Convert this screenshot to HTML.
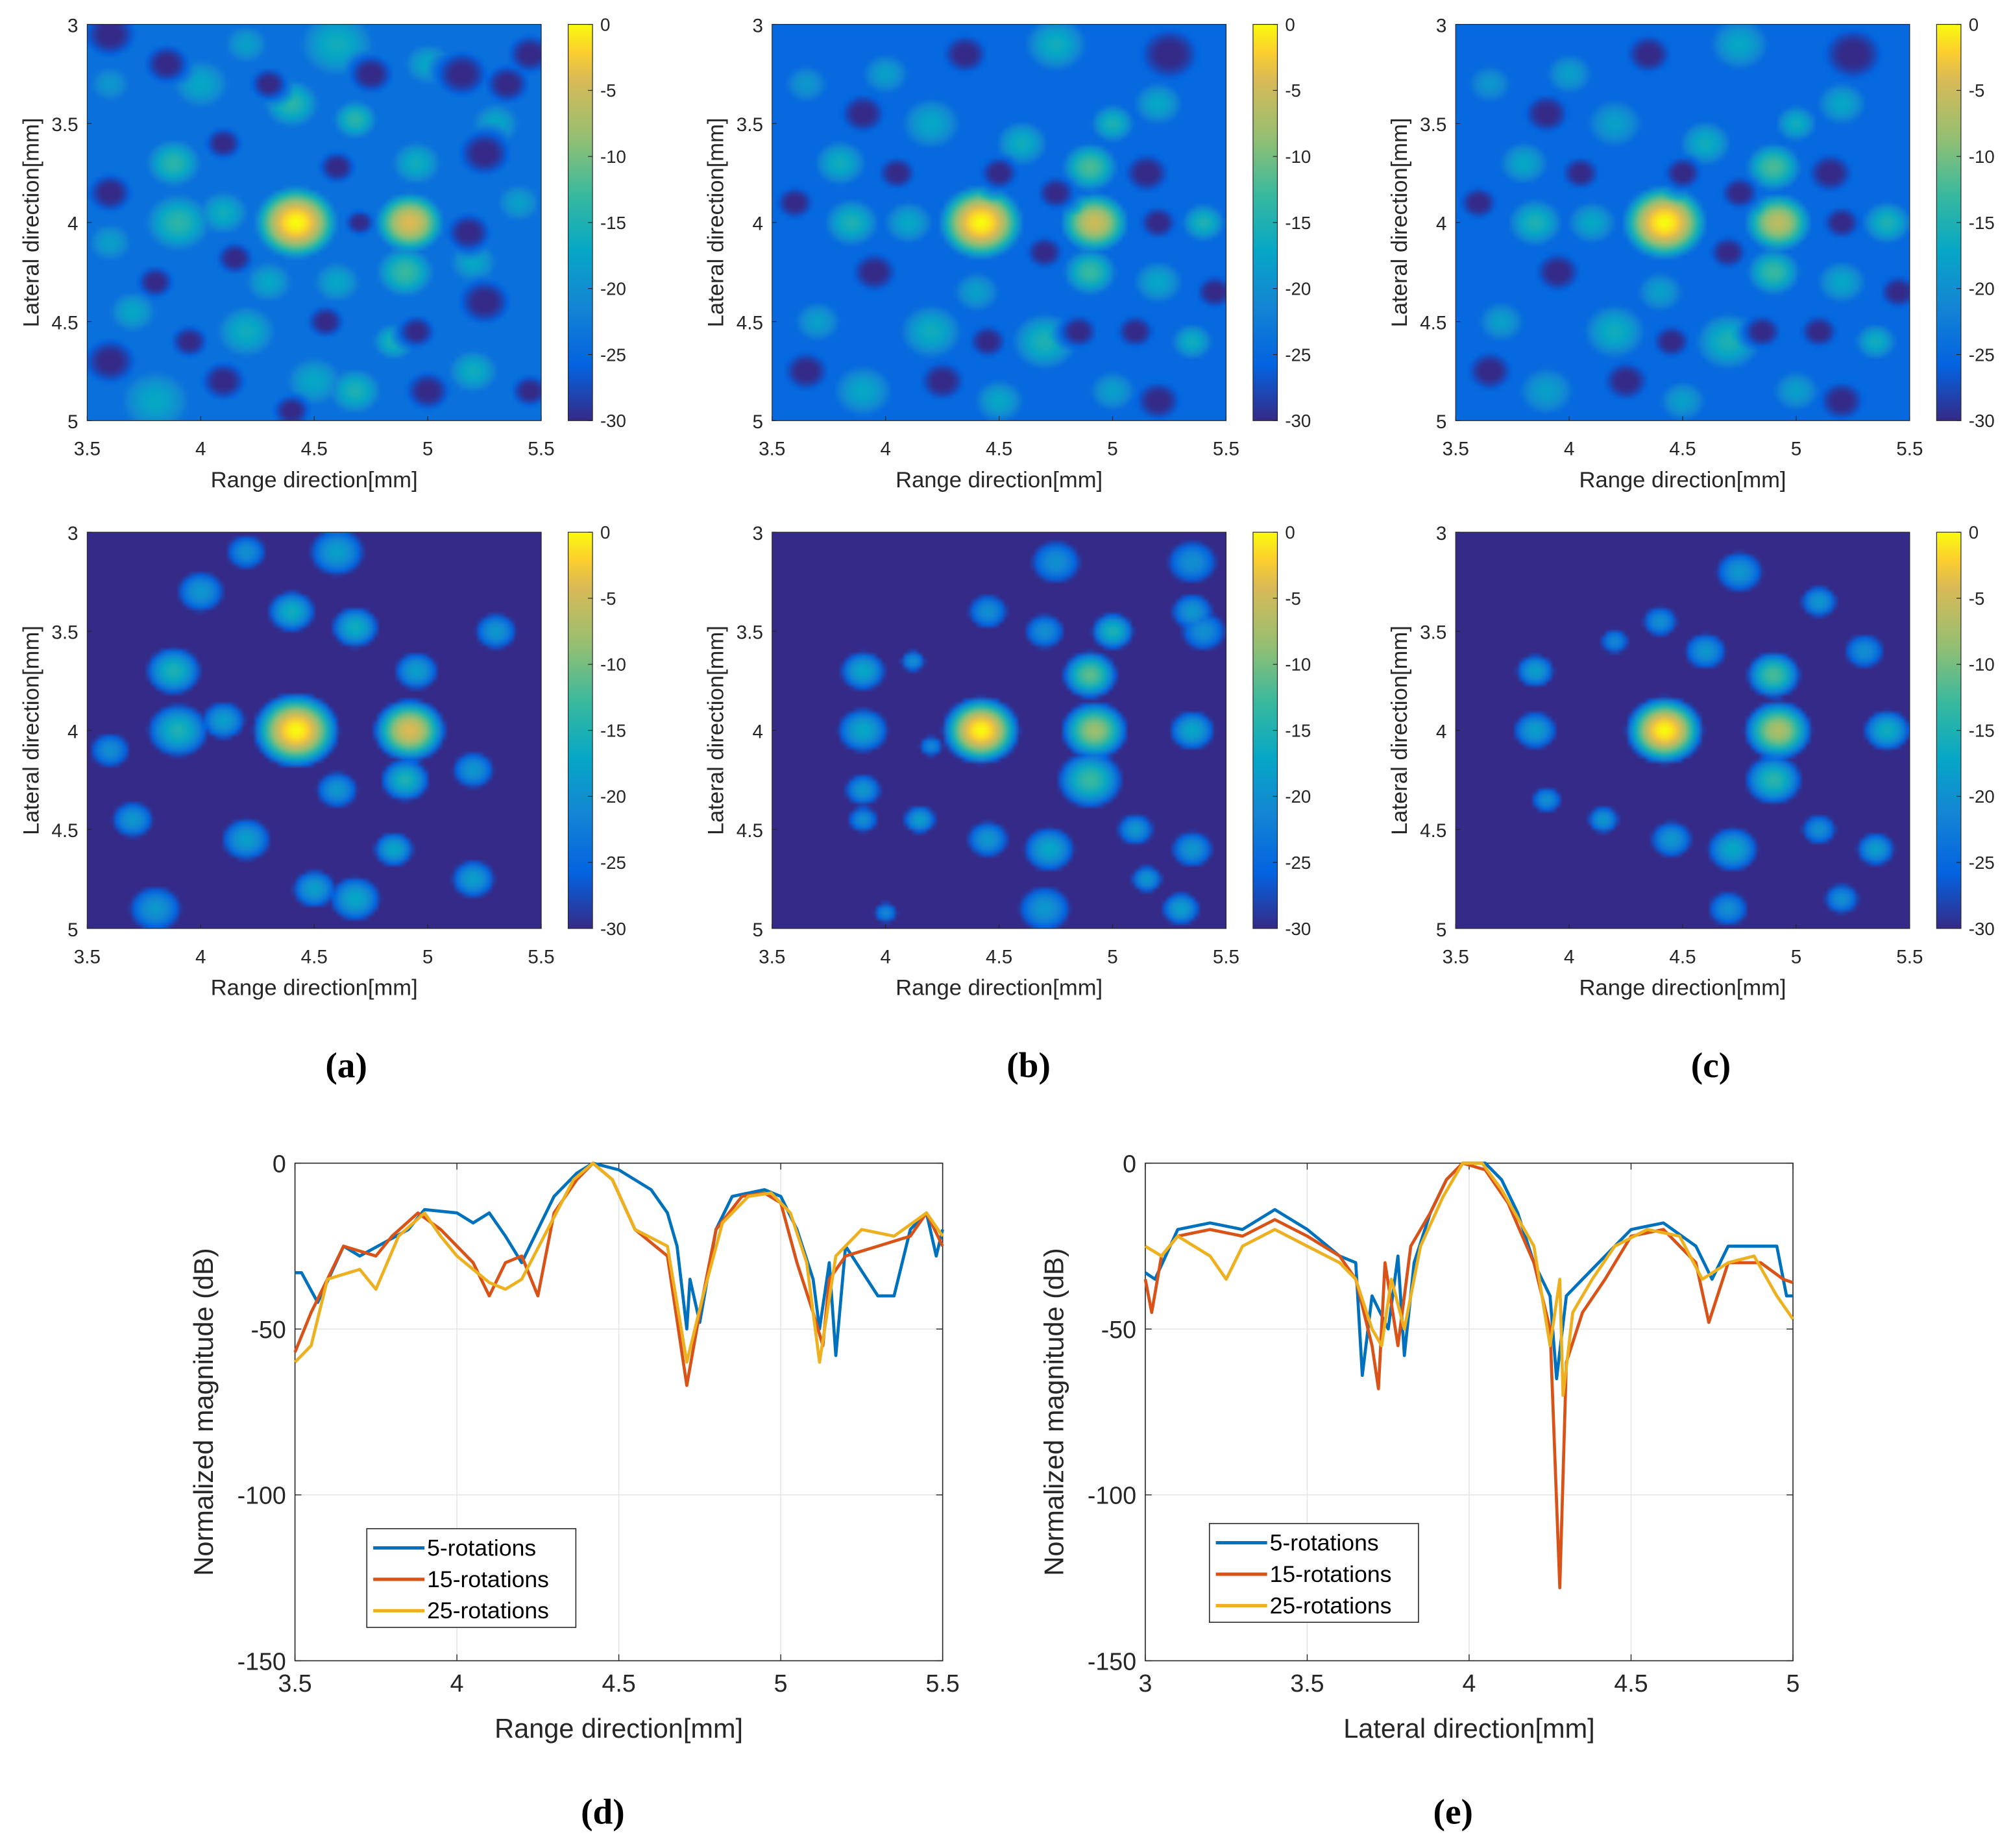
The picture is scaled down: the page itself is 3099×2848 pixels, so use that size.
<!DOCTYPE html>
<html><head><meta charset="utf-8"><style>
html,body{margin:0;padding:0;background:#fff;}
#root{position:relative;width:3099px;height:2848px;overflow:hidden;}
#stage{position:absolute;left:0;top:0;width:1568px;height:1441px;transform:scale(1.97640);transform-origin:0 0;}
canvas{position:absolute;image-rendering:auto;}
svg{position:absolute;left:0;top:0;}
text{font-family:"Liberation Sans",sans-serif;}
</style></head><body>
<div id="root"><div id="stage">
<svg id="svg" width="1568" height="1441" viewBox="0 0 1568 1441">
<defs><linearGradient id="parula" x1="0" y1="1" x2="0" y2="0">
<stop offset="0" stop-color="#352a87"/><stop offset="0.14" stop-color="#0363e1"/><stop offset="0.29" stop-color="#1485d4"/><stop offset="0.43" stop-color="#06a7c6"/><stop offset="0.57" stop-color="#38b99e"/><stop offset="0.71" stop-color="#92bf73"/><stop offset="0.86" stop-color="#d9ba56"/><stop offset="0.93" stop-color="#fcce2e"/><stop offset="1" stop-color="#f9fb0e"/></linearGradient></defs>
</svg>
</div></div>
<script>
// ---- heatmap data: blobs [x mm, y mm, peak dB, radius mm]; holes [x mm, y mm, radius mm]
const heatXTicks=[3.5,4,4.5,5,5.5];
const heatYTicks=[3,3.5,4,4.5,5];
const cbarTicks=[0,-5,-10,-15,-20,-25,-30];
const blobsA=[[4.42,4.0,0,0.1],[4.92,4.0,-4,0.09],[3.9,4.0,-14,0.12],[4.1,3.95,-16,0.1],[3.88,3.7,-14,0.1],[4.0,3.3,-17,0.12],[4.6,3.1,-16,0.15],[5.0,3.2,-17,0.1],[5.3,3.5,-17,0.1],[4.4,3.4,-14,0.1],[4.68,3.48,-14,0.08],[4.9,4.25,-13,0.1],[4.6,4.3,-17,0.1],[4.2,4.55,-16,0.12],[3.7,4.45,-17,0.1],[3.8,4.9,-17,0.15],[4.68,4.85,-15,0.1],[5.2,4.75,-16,0.1],[5.2,4.2,-17,0.1],[5.4,3.9,-18,0.1],[4.3,4.3,-17,0.1],[3.6,3.3,-19,0.1],[4.85,4.6,-15,0.08],[4.2,3.1,-18,0.1],[3.6,4.1,-18,0.1],[4.5,4.8,-17,0.12],[4.95,3.7,-16,0.1]];
const holesA=[[3.6,3.05,0.07],[3.85,3.2,0.06],[4.3,3.3,0.05],[4.75,3.25,0.06],[5.15,3.25,0.07],[5.45,3.15,0.06],[4.1,3.6,0.05],[4.6,3.72,0.05],[5.25,3.65,0.07],[5.35,3.3,0.06],[3.6,3.85,0.06],[4.15,4.18,0.05],[4.7,4.0,0.04],[5.18,4.05,0.06],[5.25,4.4,0.07],[3.8,4.3,0.05],[4.55,4.5,0.05],[4.95,4.55,0.05],[3.6,4.7,0.07],[4.1,4.8,0.06],[5.0,4.85,0.06],[4.4,4.95,0.05],[3.95,4.6,0.05],[5.45,4.85,0.05]];
const blobsB=[[4.42,4.0,0,0.1],[4.92,4.0,-5,0.09],[4.9,3.72,-12,0.09],[4.9,4.25,-13,0.09],[3.85,4.0,-15,0.1],[4.1,4.0,-17,0.1],[3.8,3.7,-16,0.1],[4.2,3.5,-17,0.12],[4.6,3.6,-16,0.1],[4.75,3.1,-16,0.12],[5.2,3.4,-17,0.1],[5.4,4.0,-15,0.08],[5.2,4.3,-17,0.1],[4.7,4.6,-15,0.12],[4.2,4.55,-16,0.12],[3.7,4.5,-18,0.1],[3.9,4.85,-17,0.12],[5.35,4.6,-16,0.08],[4.5,4.9,-17,0.1],[4.0,3.25,-18,0.1],[5.0,4.85,-18,0.1],[3.65,3.3,-19,0.1],[4.4,4.35,-18,0.1],[5.0,3.5,-15,0.08]];
const holesB=[[5.25,3.15,0.08],[4.35,3.15,0.06],[3.9,3.45,0.06],[4.5,3.75,0.05],[4.75,3.85,0.05],[4.7,4.15,0.05],[5.15,3.75,0.06],[5.2,4.0,0.05],[3.95,4.25,0.06],[4.45,4.6,0.05],[4.85,4.55,0.05],[5.1,4.55,0.05],[3.65,4.75,0.06],[4.25,4.8,0.06],[5.2,4.9,0.06],[5.45,4.35,0.05],[3.6,3.9,0.05],[4.05,3.75,0.05]];
const blobsC=[[4.42,4.0,0,0.1],[4.92,4.0,-6,0.09],[4.9,3.72,-12,0.09],[4.9,4.25,-13,0.09],[3.85,4.0,-15,0.1],[4.1,4.0,-17,0.1],[3.8,3.7,-17,0.1],[4.2,3.5,-18,0.12],[4.6,3.6,-16,0.1],[4.75,3.1,-17,0.12],[5.2,3.4,-17,0.1],[5.4,4.0,-15,0.09],[5.2,4.3,-17,0.1],[4.7,4.6,-15,0.12],[4.2,4.55,-16,0.12],[3.7,4.5,-18,0.1],[3.9,4.85,-18,0.12],[5.35,4.6,-16,0.08],[4.5,4.9,-18,0.1],[4.0,3.25,-18,0.1],[5.0,4.85,-18,0.1],[3.65,3.3,-19,0.1],[4.4,4.35,-18,0.1],[5.0,3.5,-16,0.08]];
const holesC=[[5.25,3.15,0.08],[4.35,3.15,0.06],[3.9,3.45,0.06],[4.5,3.75,0.05],[4.75,3.85,0.05],[4.7,4.15,0.05],[5.15,3.75,0.06],[5.2,4.0,0.05],[3.95,4.25,0.06],[4.45,4.6,0.05],[4.85,4.55,0.05],[5.1,4.55,0.05],[3.65,4.75,0.06],[4.25,4.8,0.06],[5.2,4.9,0.06],[5.45,4.35,0.05],[3.6,3.9,0.05],[4.05,3.75,0.05]];
const blobsD=[[4.42,4.0,0,0.1],[4.92,4.0,-4,0.09],[3.9,4.0,-15,0.1],[4.1,3.95,-18,0.08],[3.88,3.7,-15,0.09],[4.0,3.3,-19,0.09],[4.6,3.1,-18,0.1],[4.4,3.4,-16,0.08],[4.68,3.48,-16,0.08],[4.9,4.25,-15,0.08],[4.2,4.55,-18,0.09],[3.7,4.45,-19,0.08],[4.68,4.85,-17,0.09],[5.2,4.75,-18,0.08],[5.3,3.5,-19,0.08],[4.85,4.6,-17,0.07],[3.8,4.9,-19,0.1],[4.5,4.8,-18,0.08],[4.95,3.7,-18,0.08],[4.6,4.3,-19,0.08],[5.2,4.2,-19,0.08],[3.6,4.1,-20,0.08],[4.2,3.1,-20,0.08]];
const blobsE=[[4.42,4.0,0,0.09],[4.92,4.0,-8,0.09],[4.9,3.72,-11,0.08],[4.9,4.25,-13,0.1],[3.9,4.0,-17,0.09],[3.9,3.7,-17,0.08],[4.75,3.15,-20,0.1],[5.35,3.15,-20,0.1],[4.45,3.4,-20,0.08],[4.7,3.5,-20,0.08],[5.0,3.5,-15,0.07],[5.4,3.5,-20,0.09],[4.12,3.65,-20,0.05],[4.2,4.08,-21,0.05],[5.35,4.0,-17,0.08],[3.9,4.3,-19,0.07],[3.9,4.45,-20,0.06],[4.15,4.45,-18,0.06],[4.45,4.55,-19,0.08],[4.72,4.6,-17,0.09],[5.1,4.5,-19,0.07],[5.35,4.6,-19,0.08],[5.15,4.75,-19,0.06],[4.7,4.9,-19,0.1],[5.3,4.9,-18,0.07],[4.0,4.92,-21,0.05],[5.35,3.4,-19,0.08]];
const blobsF=[[4.42,4.0,0,0.09],[4.92,4.0,-7,0.09],[4.9,3.72,-12,0.08],[4.9,4.25,-14,0.09],[3.85,4.0,-18,0.08],[3.85,3.7,-18,0.07],[4.75,3.2,-19,0.09],[5.1,3.35,-19,0.07],[4.4,3.45,-20,0.07],[4.6,3.6,-19,0.08],[5.4,4.0,-16,0.08],[4.15,4.45,-19,0.06],[4.45,4.55,-19,0.08],[4.72,4.6,-17,0.09],[5.1,4.5,-20,0.07],[5.35,4.6,-18,0.07],[4.7,4.9,-20,0.08],[5.2,4.85,-20,0.07],[3.9,4.35,-20,0.06],[5.3,3.6,-20,0.08],[4.2,3.55,-21,0.06]];
const noHoles=[];
// ---- line chart data
const dX1=[3.5,3.52,3.57,3.65,3.7,3.85,3.9,4.0,4.05,4.1,4.15,4.2,4.25,4.3,4.37,4.42,4.5,4.6,4.65,4.68,4.71,4.72,4.75,4.8,4.85,4.95,5.0,5.05,5.1,5.12,5.15,5.17,5.2,5.3,5.35,5.4,5.45,5.48,5.5];
const dY1=[-33,-33,-42,-25,-28,-20,-14,-15,-18,-15,-22,-30,-20,-10,-3,0,-2,-8,-15,-25,-50,-35,-48,-20,-10,-8,-10,-20,-35,-50,-30,-58,-25,-40,-40,-20,-15,-28,-20];
const dX2=[3.5,3.55,3.6,3.65,3.75,3.8,3.88,3.95,4.0,4.05,4.1,4.15,4.2,4.25,4.3,4.37,4.42,4.48,4.55,4.65,4.71,4.75,4.8,4.88,4.95,5.0,5.05,5.1,5.13,5.15,5.2,5.3,5.4,5.45,5.5];
const dY2=[-57,-45,-35,-25,-28,-22,-15,-20,-25,-30,-40,-30,-28,-40,-15,-5,0,-5,-20,-28,-67,-45,-20,-10,-9,-12,-30,-45,-55,-35,-28,-25,-22,-15,-25];
const dX3=[3.5,3.55,3.6,3.7,3.75,3.82,3.9,3.95,4.0,4.05,4.1,4.15,4.2,4.28,4.36,4.42,4.48,4.55,4.65,4.71,4.76,4.82,4.9,4.97,5.03,5.08,5.12,5.17,5.25,5.35,5.45,5.5];
const dY3=[-60,-55,-35,-32,-38,-22,-15,-22,-28,-32,-36,-38,-35,-20,-5,0,-5,-20,-25,-60,-40,-18,-10,-9,-15,-30,-60,-28,-20,-22,-15,-22];
const eX1=[3.0,3.03,3.1,3.2,3.3,3.4,3.5,3.6,3.65,3.67,3.7,3.75,3.78,3.8,3.83,3.88,3.93,3.98,4.05,4.1,4.15,4.2,4.25,4.27,4.3,4.35,4.4,4.5,4.6,4.7,4.75,4.8,4.95,4.98,5.0];
const eY1=[-33,-35,-20,-18,-20,-14,-20,-28,-30,-64,-40,-50,-28,-58,-30,-15,-5,0,0,-5,-15,-30,-40,-65,-40,-35,-30,-20,-18,-25,-35,-25,-25,-40,-40];
const eX2=[3.0,3.02,3.05,3.1,3.2,3.3,3.4,3.5,3.6,3.65,3.7,3.72,3.74,3.78,3.82,3.88,3.93,3.98,4.05,4.12,4.2,4.25,4.28,4.3,4.35,4.42,4.5,4.6,4.7,4.74,4.8,4.9,4.97,5.0];
const eY2=[-35,-45,-28,-22,-20,-22,-17,-22,-28,-35,-55,-68,-30,-55,-25,-15,-5,0,-2,-12,-30,-50,-128,-60,-45,-35,-22,-20,-30,-48,-30,-30,-35,-36];
const eX3=[3.0,3.05,3.1,3.2,3.25,3.3,3.4,3.5,3.6,3.65,3.7,3.73,3.76,3.8,3.85,3.92,3.98,4.04,4.1,4.2,4.25,4.28,4.29,4.32,4.38,4.45,4.55,4.65,4.72,4.8,4.88,4.95,5.0];
const eY3=[-25,-28,-22,-28,-35,-25,-20,-25,-30,-35,-50,-55,-35,-50,-25,-10,0,0,-8,-25,-55,-35,-70,-45,-35,-25,-20,-22,-35,-30,-28,-40,-47];
const lineYTicks=[0,-50,-100,-150];
const legendLabels=['5-rotations','15-rotations','25-rotations'];

const NS='http://www.w3.org/2000/svg';
const svg=document.getElementById('svg');
const stage=document.getElementById('stage');
function mk(tag,attrs,parent,txt){const e=document.createElementNS(NS,tag);for(const k in attrs)e.setAttribute(k,attrs[k]);if(txt!==undefined)e.textContent=txt;(parent||svg).appendChild(e);return e;}
const stops=[[0,[53,42,135]],[0.14,[3,99,225]],[0.29,[20,133,212]],[0.43,[6,167,198]],[0.57,[56,185,158]],[0.71,[146,191,115]],[0.86,[217,186,86]],[0.93,[252,206,46]],[1,[249,251,14]]];
function parula(t){t=Math.max(0,Math.min(1,t));for(let i=1;i<stops.length;i++){if(t<=stops[i][0]){const a=stops[i-1],b=stops[i];const f=(t-a[0])/(b[0]-a[0]);return a[1].map((v,j)=>Math.round(v+(b[1][j]-v)*f));}}return stops[stops.length-1][1];}

const panels=[
 {px:68,py:19,blobs:blobsA,holes:holesA,floor:-24,fall:7,hs:2.0,name:'a-top'},
 {px:602,py:19,blobs:blobsB,holes:holesB,floor:-25,fall:7,hs:2.1,name:'b-top'},
 {px:1135,py:19,blobs:blobsC,holes:holesC,floor:-25,fall:7,hs:2.1,name:'c-top'},
 {px:68,py:415,blobs:blobsD,holes:noHoles,floor:-30,fall:8,hs:1,name:'a-bottom'},
 {px:602,py:415,blobs:blobsE,holes:noHoles,floor:-31,fall:8,hs:1,name:'b-bottom'},
 {px:1135,py:415,blobs:blobsF,holes:noHoles,floor:-31,fall:8,hs:1,name:'c-bottom'}];
const PW=354,PH=309;
panels.forEach(p=>{
  const xs=v=>p.px+(v-3.5)/2*PW, ys=v=>p.py+(v-3)/2*PH;
  const cv=document.createElement('canvas');
  
  
  const GW=100,GH=88;cv.width=GW;cv.height=GH;
  cv.style.left=p.px+'px';cv.style.top=p.py+'px';cv.style.width=PW+'px';cv.style.height=PH+'px';
  const ctx=cv.getContext('2d');const img=ctx.createImageData(GW,GH);
  for(let j=0;j<GH;j++)for(let i=0;i<GW;i++){
    const x=3.5+(i+0.5)/GW*2,y=3+(j+0.5)/GH*2;let v=p.floor;
    p.blobs.forEach(b=>{const d2=((x-b[0])**2+(y-b[1])**2)/(b[3]*b[3]);const val=b[2]-p.fall*d2;if(val>v)v=val;});
    p.holes.forEach(h=>{const r=h[2]*p.hs;const d2=((x-h[0])**2+(y-h[1])**2)/(r*r);const val=-31+10*d2;if(val<v)v=val;});
    const c=parula((v+30)/30);const k=(j*GW+i)*4;img.data[k]=c[0];img.data[k+1]=c[1];img.data[k+2]=c[2];img.data[k+3]=255;}
  ctx.putImageData(img,0,0);stage.insertBefore(cv,svg);
  const g=mk('g',{});
  
  
  mk('rect',{x:p.px,y:p.py,width:PW,height:PH,fill:'none',stroke:'#262626','stroke-width':0.6},g);
  heatXTicks.forEach(t=>{const x=xs(t);mk('line',{x1:x,x2:x,y1:p.py+PH,y2:p.py+PH-3.5,stroke:'#262626','stroke-width':0.6},g);
    const tl=mk('text',{x:x,y:p.py+PH+27,'font-size':15,'text-anchor':'middle',fill:'#262626'},g,String(t));
    });
  heatYTicks.forEach(t=>{const y=ys(t);mk('line',{x1:p.px,x2:p.px+3.5,y1:y,y2:y,stroke:'#262626','stroke-width':0.6},g);
    const tl=mk('text',{x:p.px-7,y:y+6,'font-size':15,'text-anchor':'end',fill:'#262626'},g,String(t));
    });
  const xl=mk('text',{x:p.px+PW/2,y:p.py+PH+52,'font-size':17.5,'text-anchor':'middle',fill:'#262626'},g,'Range direction[mm]');
  
  const yl=mk('text',{x:0,y:0,'font-size':17.5,'text-anchor':'middle',fill:'#262626',transform:`translate(${p.px-38},${p.py+PH/2}) rotate(-90)`},g,'Lateral direction[mm]');
  
  const cx=p.px+375;
  const cb=mk('rect',{x:cx,y:p.py,width:19,height:PH,fill:'url(#parula)',stroke:'#262626','stroke-width':0.6},g);
  
  cbarTicks.forEach(t=>{const y=p.py+(-t)/30*PH;mk('line',{x1:cx+19,x2:cx+15.5,y1:y,y2:y,stroke:'#262626','stroke-width':0.6},g);
    const tl=mk('text',{x:cx+25,y:y+5,'font-size':14,fill:'#262626'},g,String(t));
    });
});
[['(a)',270,830],['(b)',802,830],['(c)',1334,830],['(d)',470,1412],['(e)',1133,1412]].forEach(l=>{
  const t=mk('text',{x:l[1],y:l[2]+10,'font-size':28,'font-weight':'bold','text-anchor':'middle',fill:'#000',style:'font-family:"Liberation Serif",serif'},svg,l[0]);
  });

const colors=['#0072bd','#d95319','#edb120'];
function lineChart(cfg){
  const L=cfg.left,T=907,W=505,H=388;
  const xs=v=>L+(v-cfg.x0)/(cfg.x1-cfg.x0)*W, ys=v=>T+(-v)/150*H;
  const g=mk('g',{});
  
  
  mk('rect',{x:L,y:T,width:W,height:H,fill:'#fff'},g);
  cfg.ticks.forEach(t=>{const x=xs(t);mk('line',{x1:x,x2:x,y1:T,y2:T+H,stroke:'#e6e6e6','stroke-width':0.8},g);
    mk('line',{x1:x,x2:x,y1:T+H,y2:T+H-5,stroke:'#262626','stroke-width':0.7},g);mk('line',{x1:x,x2:x,y1:T,y2:T+5,stroke:'#262626','stroke-width':0.7},g);
    const tl=mk('text',{x:x,y:T+H+24,'font-size':19,'text-anchor':'middle',fill:'#262626'},g,String(t));
    });
  lineYTicks.forEach(t=>{const y=ys(t);mk('line',{x1:L,x2:L+W,y1:y,y2:y,stroke:'#e6e6e6','stroke-width':0.8},g);
    mk('line',{x1:L,x2:L+5,y1:y,y2:y,stroke:'#262626','stroke-width':0.7},g);mk('line',{x1:L+W,x2:L+W-5,y1:y,y2:y,stroke:'#262626','stroke-width':0.7},g);
    const tl=mk('text',{x:L-7,y:y+7,'font-size':19,'text-anchor':'end',fill:'#262626'},g,String(t));
    });
  mk('rect',{x:L,y:T,width:W,height:H,fill:'none',stroke:'#262626','stroke-width':0.8},g);
  cfg.series.forEach((s,i)=>{const pts=s[0].map((x,k)=>xs(x).toFixed(1)+','+ys(s[1][k]).toFixed(1)).join(' ');
    const pl=mk('polyline',{points:pts,fill:'none',stroke:colors[i],'stroke-width':2.4,'stroke-linejoin':'round'},g);
    });
  const xl=mk('text',{x:L+W/2,y:T+H+60,'font-size':21,'text-anchor':'middle',fill:'#262626'},g,cfg.xlabel);
  
  const yl=mk('text',{x:0,y:0,'font-size':21,'text-anchor':'middle',fill:'#262626',transform:`translate(${L-64},${T+H/2}) rotate(-90)`},g,'Normalized magnitude (dB)');
  
  const lg=mk('g',{},g);
  
  mk('rect',{x:cfg.lx,y:cfg.ly,width:163,height:77,fill:'#fff',stroke:'#262626','stroke-width':0.8},lg);
  legendLabels.forEach((lab,i)=>{const y=cfg.ly+15+i*24.5;
    mk('line',{x1:cfg.lx+5,x2:cfg.lx+45,y1:y,y2:y,stroke:colors[i],'stroke-width':2.6},lg);
    const t=mk('text',{x:cfg.lx+47,y:y+6,'font-size':18,fill:'#000'},lg,lab);
    });
}
lineChart({name:'range',left:230,x0:3.5,x1:5.5,ticks:[3.5,4,4.5,5,5.5],xlabel:'Range direction[mm]',lx:286,ly:1192,series:[[dX1,dY1],[dX2,dY2],[dX3,dY3]]});
lineChart({name:'lateral',left:893,x0:3,x1:5,ticks:[3,3.5,4,4.5,5],xlabel:'Lateral direction[mm]',lx:943,ly:1188,series:[[eX1,eY1],[eX2,eY2],[eX3,eY3]]});
</script>
</body></html>
